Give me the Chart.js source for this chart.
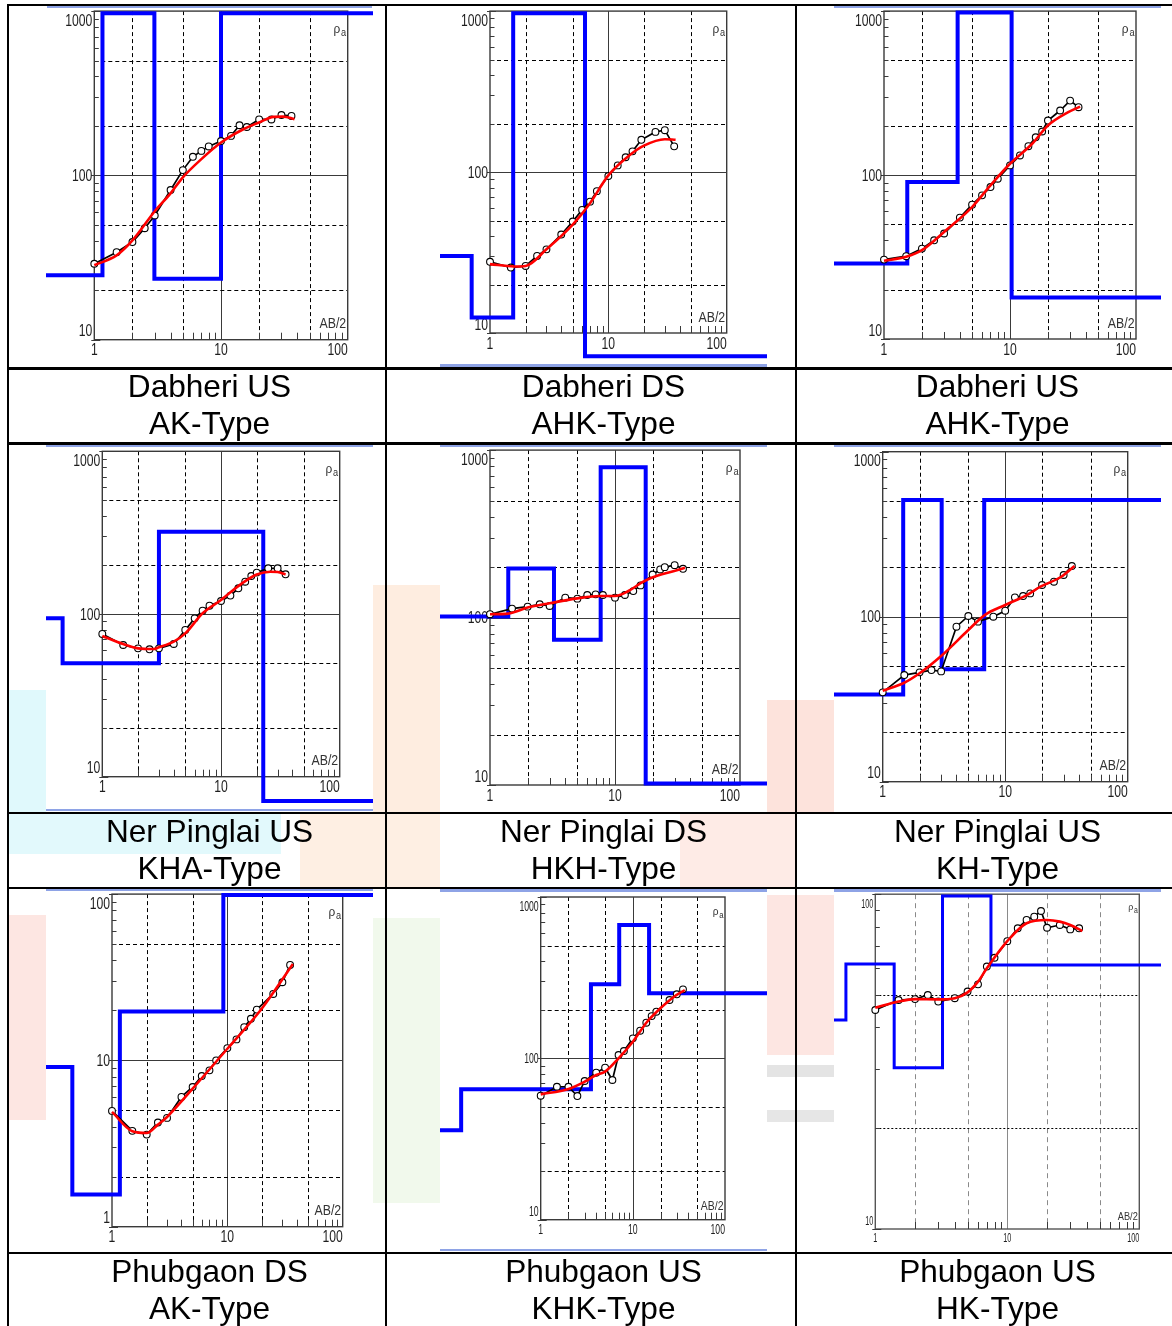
<!DOCTYPE html>
<html>
<head>
<meta charset="utf-8">
<title>VES sounding curves</title>
<script src="https://cdn.jsdelivr.net/npm/chart.js@4.4.1/dist/chart.umd.min.js"></script>
<style>
html, body { margin: 0; padding: 0; background: #fff; }
body { position: relative; width: 1172px; height: 1326px; overflow: hidden;
       font-family: "Liberation Sans", Arial, sans-serif; }
.wm { position: absolute; z-index: 0; }
.plot { position: absolute; z-index: 1; background: #fff; }
.edge { position: absolute; z-index: 2; background: #8ea3e6; }
.rule { position: absolute; z-index: 3; background: #000; }
.cap { position: absolute; z-index: 4; width: 400px; text-align: center; font-size: 31.6px;
       line-height: 36.6px; color: #000; white-space: nowrap; }
</style>
</head>
<body>
<script>
// Site / curve names shown under each sounding
const siteNames  = ['Dabheri US', 'Dabheri DS', 'Dabheri US',
                    'Ner Pinglai US', 'Ner Pinglai DS', 'Ner Pinglai US',
                    'Phubgaon DS', 'Phubgaon US', 'Phubgaon US'];
const curveTypes = ['AK-Type', 'AHK-Type', 'AHK-Type',
                    'KHA-Type', 'HKH-Type', 'KH-Type',
                    'AK-Type', 'KHK-Type', 'HK-Type'];

// Axis tick labels
const xTickValues = [1, 10, 100];
const xTickLabels = ['1', '10', '100'];
const yTicks10to1000 = [10, 100, 1000];
const yTicks1to100   = [1, 10, 100];
const yTicks10to100  = [10, 100];

// ---- Dabheri US (AK) ----
const ab1     = [1, 1.5, 2, 2.5, 3, 4, 5, 6, 7, 8, 10, 12, 14, 16, 20, 25, 30, 36];
const rho1    = [29.0, 34.1, 39.3, 47.7, 57, 81.5, 107.7, 129.8, 141, 150, 162, 174, 202, 197, 219, 219, 233, 230];
const fitAb1  = [1, 1.5, 2, 3, 4, 5, 7, 10, 15, 20, 26, 31, 38];
const fitRho1 = [28.4, 32.6, 40.2, 60.5, 77.8, 97.3, 125.6, 158.5, 191, 210, 227, 228, 220];
const layerTop1 = [1.16, 2.98, 10];
const layerRho1 = [24.7, 970, 23.5, 970];

// ---- Dabheri DS (AHK) ----
const ab2     = [1, 1.5, 2, 2.5, 3, 4, 5, 6, 7, 8, 10, 12, 14, 16, 19, 25, 30, 36];
const rho2    = [27.7, 25.5, 26.1, 30.1, 33.1, 40.9, 49.3, 58.2, 65.5, 76.1, 94.5, 110, 123.6, 134.5, 158.6, 177.6, 182, 144.4];
const fitAb2  = [1, 1.6, 2, 3, 5, 7, 10, 15, 20, 30, 37];
const fitRho2 = [26.8, 25.9, 26.1, 33.1, 47.1, 64, 95.4, 126.6, 145.8, 160, 158.7];
const layerTop2 = [0.70, 1.57, 6.35];
const layerRho2 = [30.1, 12.5, 968, 7.16];

// ---- Dabheri US (AHK) ----
const ab3     = [1, 1.5, 2, 2.5, 3, 4, 5, 6, 7, 8, 10, 12, 14, 16, 18, 20, 25, 30, 35];
const rho3    = [30.5, 32, 35.6, 40, 44, 55, 66, 75.2, 84.5, 95, 114.5, 131.7, 150, 170, 184.4, 215, 247.5, 284.6, 259.3];
const fitAb3  = [1, 1.5, 2, 3, 5, 7, 10, 15, 20, 29, 36];
const fitRho3 = [30, 31.7, 34.8, 45, 63.8, 86.5, 117.2, 155.2, 200.5, 241.7, 261.7];
const layerTop3 = [1.53, 3.84, 10.3];
const layerRho3 = [28.9, 90.7, 982, 17.9];

// ---- Ner Pinglai US (KHA) ----
const ab4     = [1, 1.5, 2, 2.5, 3, 4, 5, 6, 7, 8, 10, 12, 14, 16, 18, 20, 25, 30, 35];
const rho4    = [75.4, 64.5, 61.5, 60.7, 61.5, 65.4, 79.8, 94, 104.8, 112.5, 120.2, 129.7, 143.9, 158, 171.2, 179.6, 190.9, 190.9, 175.4];
const fitAb4  = [1, 1.5, 2, 2.7, 3, 4, 5, 7, 10, 15, 20, 26, 30, 35];
const fitRho4 = [73.3, 65.4, 61.5, 60.9, 62.4, 67.6, 76, 101, 121.9, 154.3, 175, 182, 181, 175];
const layerTop4 = [0.463, 3.0, 22.7];
const layerRho4 = [94, 49.8, 320.7, 7.08];

// ---- Ner Pinglai DS (HKH) ----
const ab5     = [1, 1.5, 2, 2.5, 3, 4, 5, 6, 7, 8, 10, 12, 14, 16, 20, 23, 25, 30, 35];
const rho5    = [104.7, 113.1, 116.2, 120, 117.3, 131.5, 129.7, 136.4, 137.6, 136.4, 131.5, 136.4, 143.9, 155.6, 180.8, 193.8, 200, 205.6, 195.5];
const fitAb5  = [1, 1.4, 2, 3, 5, 7.6, 10, 12.8, 16.3, 19.6, 29.3, 36.3];
const fitRho5 = [104.7, 105.6, 114.7, 121.7, 130.2, 134.5, 134.5, 144, 161.4, 172.9, 189.3, 198.2];
const layerTop5 = [1.40, 3.25, 7.68, 17.6];
const layerRho5 = [101.4, 196.4, 73.7, 789, 10.2];

// ---- Ner Pinglai US (KH) ----
const ab6     = [1, 1.5, 2, 2.5, 3, 4, 5, 6, 8, 10, 12, 14, 16, 20, 25, 30, 35];
const rho6    = [34.8, 44.3, 46, 47.5, 46.6, 87, 101, 93.3, 100, 108.7, 131, 133.4, 138.4, 155.6, 163, 178.9, 202.8];
const fitAb6  = [1, 1.5, 2, 3, 5, 6.8, 10, 15, 19.4, 28.7, 36.8];
const fitRho6 = [35.6, 39.8, 45.4, 57.8, 83, 102.3, 117.7, 135.3, 152, 174.7, 202.8];
const layerTop6 = [1.47, 3.03, 6.74];
const layerRho6 = [33.8, 509, 48, 509];

// ---- Phubgaon DS (AK) ----
const ab7     = [1, 1.5, 2, 2.5, 3, 4, 5, 6, 7, 8, 10, 12, 14, 16, 18, 25, 30, 35];
const rho7    = [4.97, 3.77, 3.58, 4.23, 4.51, 6.03, 6.92, 8.05, 8.71, 10, 11.86, 13.37, 15.85, 17.8, 20.2, 25.1, 29.5, 37.5];
const fitAb7  = [1, 1.5, 2, 2.5, 3, 5, 10, 20, 37];
const fitRho7 = [4.9, 3.75, 3.66, 4.11, 4.57, 6.76, 11.75, 20.6, 38];
const layerTop7 = [0.453, 1.17, 9.23];
const layerRho7 = [9.12, 1.56, 19.7, 98.6];

// ---- Phubgaon US (KHK) ----
const ab8     = [1, 1.5, 2, 2.5, 3, 4, 5, 6, 7, 8, 10, 12, 14, 16, 18, 25, 30, 35];
const rho8    = [58.7, 66.7, 66.7, 58.4, 72.4, 81.5, 87.5, 73.4, 104.9, 111, 133, 148.4, 166.3, 182.8, 194.6, 230, 249.5, 267.7];
const fitAb8  = [1, 2, 3, 4, 5, 7, 10, 14.3, 18.5, 28, 36.6];
const fitRho8 = [59.8, 64.6, 71.7, 78.8, 82.7, 100, 126.8, 168.7, 196.5, 241, 265.2];
const layerTop8 = [0.137, 3.51, 7.11, 15.0];
const layerRho8 = [35.9, 64.3, 287.5, 670, 252.8];

// ---- Phubgaon US (HK) ----
const ab9     = [1, 1.5, 2, 2.5, 3, 4, 5, 6, 7, 8, 10, 12, 14, 16, 18, 20, 25, 30, 35];
const rho9    = [45.1, 48.3, 48.6, 50, 47.8, 48.9, 51.2, 53.8, 60.8, 64.6, 72.4, 79.1, 83.8, 85.7, 89.1, 79.4, 80.9, 78.5, 79.1];
const fitAb9  = [1, 1.5, 2, 3, 4, 5, 6, 7, 10, 14, 20, 25, 30, 37];
const fitRho9 = [45.8, 47.8, 48.6, 48.5, 48.9, 50.9, 54.8, 60.1, 72.4, 81.9, 83.7, 82.8, 80.9, 77.6];
const layerTop9 = [0.599, 1.39, 3.23, 7.52];
const layerRho9 = [42.1, 61.9, 30.3, 98.7, 61.5];

// The layered model is drawn as a stepped line running past both plot edges
const MODEL_LEFT = 0.01, MODEL_RIGHT = 10000;

const soundings = [
  [ab1, rho1, fitAb1, fitRho1, layerTop1, layerRho1],
  [ab2, rho2, fitAb2, fitRho2, layerTop2, layerRho2],
  [ab3, rho3, fitAb3, fitRho3, layerTop3, layerRho3],
  [ab4, rho4, fitAb4, fitRho4, layerTop4, layerRho4],
  [ab5, rho5, fitAb5, fitRho5, layerTop5, layerRho5],
  [ab6, rho6, fitAb6, fitRho6, layerTop6, layerRho6],
  [ab7, rho7, fitAb7, fitRho7, layerTop7, layerRho7],
  [ab8, rho8, fitAb8, fitRho8, layerTop8, layerRho8],
  [ab9, rho9, fitAb9, fitRho9, layerTop9, layerRho9]
];

// Page layout: canvas rectangle [x, y, w, h], plot frame [left, top, right, bottom]
const views = [
  { img: [46, 6, 327, 360],   box: [94.3, 9.7, 347.7, 339.7],     yMin: 10, yMax: 1000, yTicks: yTicks10to1000, label: 16, sx: 0.76, deco: 1 },
  { img: [440, 6, 327, 360],  box: [490, 7, 726.7, 333],          yMin: 10, yMax: 1000, yTicks: yTicks10to1000, label: 16, sx: 0.76, deco: 1 },
  { img: [834, 6, 327, 360],  box: [884, 10.3, 1136, 339],        yMin: 10, yMax: 1000, yTicks: yTicks10to1000, label: 16, sx: 0.76, deco: 1 },
  { img: [46, 445, 327, 366], box: [102.3, 451.3, 339.7, 776.7],  yMin: 10, yMax: 1000, yTicks: yTicks10to1000, label: 16, sx: 0.76, deco: 1 },
  { img: [440, 445, 327, 366],box: [490, 448.3, 740, 785],        yMin: 10, yMax: 1000, yTicks: yTicks10to1000, label: 16, sx: 0.76, deco: 1 },
  { img: [834, 445, 327, 366],box: [882.7, 451.7, 1127.7, 781.7], yMin: 10, yMax: 1000, yTicks: yTicks10to1000, label: 16, sx: 0.76, deco: 1 },
  { img: [46, 889, 327, 363], box: [112, 893.3, 342.7, 1226.7],   yMin: 1,  yMax: 100,  yTicks: yTicks1to100,   label: 16, sx: 0.76, deco: 1 },
  { img: [440, 889, 327, 363],box: [540.7, 897, 725, 1219.7],     yMin: 10, yMax: 1000, yTicks: yTicks10to1000, label: 14, sx: 0.62, deco: 0.85 },
  { img: [834, 889, 327, 363],box: [875.3, 894.2, 1139.3, 1229],  yMin: 10, yMax: 100,  yTicks: yTicks10to100,  label: 13, sx: 0.56, deco: 0.75, light: true }
];

const FONT = '"Liberation Sans", Arial, sans-serif';

function drawText(ctx, str, x, y, size, sx, align, color) {
  ctx.save();
  ctx.translate(x, y);
  ctx.scale(sx, 1);
  ctx.font = size + 'px ' + FONT;
  ctx.fillStyle = color;
  ctx.textAlign = align;
  ctx.textBaseline = 'alphabetic';
  ctx.fillText(str, 0, 0);
  ctx.restore();
}

// Grid positions on a log axis: 2x and 5x lines (dashed) and decades (solid)
function gridValues(min, max) {
  const out = [];
  for (let e = Math.floor(Math.log10(min)); e <= Math.ceil(Math.log10(max)); e++) {
    for (const m of [1, 2, 5]) {
      const v = m * Math.pow(10, e);
      if (v > min * 1.001 && v < max / 1.001) out.push({ v, major: m === 1 });
    }
  }
  return out;
}
function minorValues(min, max) {
  const out = [];
  for (let e = Math.floor(Math.log10(min)); e <= Math.ceil(Math.log10(max)); e++) {
    for (let m = 1; m <= 9; m++) {
      const v = m * Math.pow(10, e);
      if (v >= min * 0.999 && v <= max * 1.001) out.push({ v, decade: m === 1 });
    }
  }
  return out;
}
const snap = p => Math.round(p) + 0.5;

// Draws the sounding frame: grid, box, ticks and labels, under the curves
function soundingFrame(view) {
  return {
    id: 'soundingFrame',
    beforeDatasetsDraw(chart) {
      const { ctx, chartArea: a, scales: { x, y } } = chart;
      const light = !!view.light;
      ctx.save();
      ctx.lineWidth = 1;

      // vertical grid lines
      for (const g of gridValues(x.min, x.max)) {
        const p = snap(x.getPixelForValue(g.v));
        ctx.beginPath();
        if (g.major) { ctx.setLineDash([]); ctx.strokeStyle = light ? '#8a8a8a' : '#3a3a3a'; }
        else { ctx.setLineDash(light ? [5, 4] : [4, 3]); ctx.strokeStyle = light ? '#8a8a8a' : '#000'; }
        ctx.moveTo(p, a.top); ctx.lineTo(p, a.bottom); ctx.stroke();
      }
      // horizontal grid lines
      for (const g of gridValues(y.min, y.max)) {
        const p = snap(y.getPixelForValue(g.v));
        ctx.beginPath();
        if (g.major) { ctx.setLineDash([]); ctx.strokeStyle = '#3a3a3a'; }
        else { ctx.setLineDash(light ? [2, 2] : [4, 3]); ctx.strokeStyle = '#000'; }
        ctx.moveTo(a.left, p); ctx.lineTo(a.right, p); ctx.stroke();
      }
      ctx.setLineDash([]);

      // frame
      ctx.strokeStyle = light ? '#555' : '#3a3a3a';
      ctx.lineWidth = 1.4;
      ctx.strokeRect(a.left, a.top, a.right - a.left, a.bottom - a.top);

      // minor ticks on the left and bottom edges
      ctx.lineWidth = 1;
      ctx.strokeStyle = '#3a3a3a';
      for (const t of minorValues(y.min, y.max)) {
        const p = snap(y.getPixelForValue(t.v));
        ctx.beginPath();
        ctx.moveTo(a.left - (t.decade ? 3 : 0), p);
        ctx.lineTo(a.left + (t.decade ? 6 : 4.5), p);
        ctx.stroke();
      }
      for (const t of minorValues(x.min, x.max)) {
        if (t.decade) continue;
        const p = snap(x.getPixelForValue(t.v));
        ctx.beginPath();
        ctx.moveTo(p, a.bottom);
        ctx.lineTo(p, a.bottom - 7);
        ctx.stroke();
      }

      // tick labels
      const fs = view.label, sx = view.sx, col = '#1e1e1e';
      for (let i = 0; i < view.yTicks.length; i++) {
        const v = view.yTicks[i];
        let cy = y.getPixelForValue(v);
        cy = Math.min(Math.max(cy, a.top + 9), a.bottom - 9);
        drawText(ctx, String(v), a.left - 2, cy + fs * 0.36, fs, sx, 'right', col);
      }
      for (let i = 0; i < xTickValues.length; i++) {
        const px = x.getPixelForValue(xTickValues[i]);
        const last = i === xTickValues.length - 1;
        drawText(ctx, xTickLabels[i], last ? a.right : px, a.bottom + 4 + fs * 0.72, fs, sx, last ? 'right' : 'center', col);
      }

      // axis captions
      const d = view.deco;
      drawText(ctx, 'a', a.right - 1.5, a.top + 24.5 * d, 11.5 * d, 0.8, 'right', '#333');
      drawText(ctx, '\u03c1', a.right - 1.5 - 6 * d, a.top + 21.5 * d, 12.5 * d, 0.95, 'right', '#333');
      drawText(ctx, 'AB/2', a.right - 1.5, a.bottom - 11.5 * d, 14 * d, 0.88, 'right', '#333');
      ctx.restore();
    }
  };
}

function toPoints(xs, ys) { return xs.map((v, i) => ({ x: v, y: ys[i] })); }
// Stepped outline of the layered model: horizontal at each layer's resistivity, vertical at each boundary
function modelPoints(tops, res) {
  const pts = [{ x: MODEL_LEFT, y: res[0] }];
  tops.forEach((d, i) => pts.push({ x: d, y: res[i + 1] }));
  pts.push({ x: MODEL_RIGHT, y: res[res.length - 1] });
  return pts;
}
// Fix the AB/2 axis to 1..100 after the data limits are read, so points beyond it are still drawn
function fixSpacingAxis(scale) { scale.min = 1; scale.max = 100; }

function addBox(cls, r, color) {
  const el = document.createElement('div');
  el.className = cls;
  el.style.left = r[0] + 'px'; el.style.top = r[1] + 'px';
  el.style.width = r[2] + 'px'; el.style.height = r[3] + 'px';
  if (color) el.style.background = color;
  document.body.appendChild(el);
  return el;
}

// faint background emblem behind the table
[
  [[9, 690, 37, 122], '#e0f9fc'], [[9, 814, 272, 40], '#e2f9fc'],
  [[373, 585, 67, 227], '#feede0'], [[300, 814, 140, 73], '#feefe3'],
  [[767, 700, 67, 112], '#fde3dc'], [[680, 814, 115, 73], '#feebe6'],
  [[9, 915, 37, 205], '#fde6e2'], [[373, 918, 67, 285], '#f1f9ec'],
  [[767, 895, 67, 160], '#fde6e2'], [[767, 1065, 67, 12], '#e4e4e4'], [[767, 1110, 67, 12], '#e6e6e6']
].forEach(([r, c]) => addBox('wm', r, c));

views.forEach((view, i) => {
  const [ab, rho, fab, frho, tops, res] = soundings[i];
  const [ix, iy, iw, ih] = view.img;
  const [bl, bt, br, bb] = view.box;
  const cv = document.createElement('canvas');
  cv.className = 'plot';
  cv.width = iw; cv.height = ih;
  cv.style.left = ix + 'px'; cv.style.top = iy + 'px';
  cv.style.width = iw + 'px'; cv.style.height = ih + 'px';
  document.body.appendChild(cv);

  new Chart(cv, {
    type: 'line',
    data: {
      datasets: [
        { label: 'Fitted curve', data: toPoints(fab, frho), borderColor: '#ff0000', borderWidth: 2.6,
          pointRadius: 0, tension: 0.4, cubicInterpolationMode: 'monotone', order: 0 },
        { label: 'Field data', data: toPoints(ab, rho), borderColor: '#000', borderWidth: 1.7,
          pointRadius: 3.4, pointBackgroundColor: '#fff', pointBorderColor: '#000', pointBorderWidth: 1.1, order: 1 },
        { label: 'Layer model', data: modelPoints(tops, res), borderColor: '#0000ff',
          borderWidth: view.light ? 3 : 4, pointRadius: 0, stepped: 'before', clip: false, order: 2 }
      ]
    },
    options: {
      responsive: false, animation: false, devicePixelRatio: 1, events: [],
      layout: { padding: { left: bl - ix, top: bt - iy, right: ix + iw - br, bottom: iy + ih - bb } },
      scales: {
        x: { type: 'logarithmic', bounds: 'data', display: false, afterDataLimits: fixSpacingAxis },
        y: { type: 'logarithmic', bounds: 'data', min: view.yMin, max: view.yMax, display: false }
      },
      plugins: { legend: { display: false }, tooltip: { enabled: false } }
    },
    plugins: [soundingFrame(view)]
  });
});

// light strips along some picture edges
[
  [47, 6, 325, 2], [834, 6, 327, 2], [440, 364, 327, 3],
  [46, 445, 327, 2], [46, 809, 327, 2], [440, 445, 327, 2], [834, 445, 327, 2],
  [46, 889, 327, 2], [440, 889, 327, 3], [440, 1249, 327, 2], [834, 889, 327, 3]
].forEach(r => addBox('edge', r));

// table rules
[
  [7, 4, 1165, 2], [7, 367, 1165, 3], [7, 442, 1165, 3], [7, 812, 1165, 2],
  [7, 887, 1165, 2], [7, 1252, 1165, 2],
  [7, 4, 2, 1322], [385, 4, 2, 1322], [795, 4, 2, 1322]
].forEach(r => addBox('rule', r));

// captions
const capCenters = [209.5, 603.5, 997.5];
const capTops = [368.3, 813.3, 1253.3];
siteNames.forEach((name, i) => {
  const el = document.createElement('div');
  el.className = 'cap';
  el.style.left = (capCenters[i % 3] - 200) + 'px';
  el.style.top = capTops[Math.floor(i / 3)] + 'px';
  el.appendChild(document.createTextNode(name));
  el.appendChild(document.createElement('br'));
  el.appendChild(document.createTextNode(curveTypes[i]));
  document.body.appendChild(el);
});
</script>
</body>
</html>
